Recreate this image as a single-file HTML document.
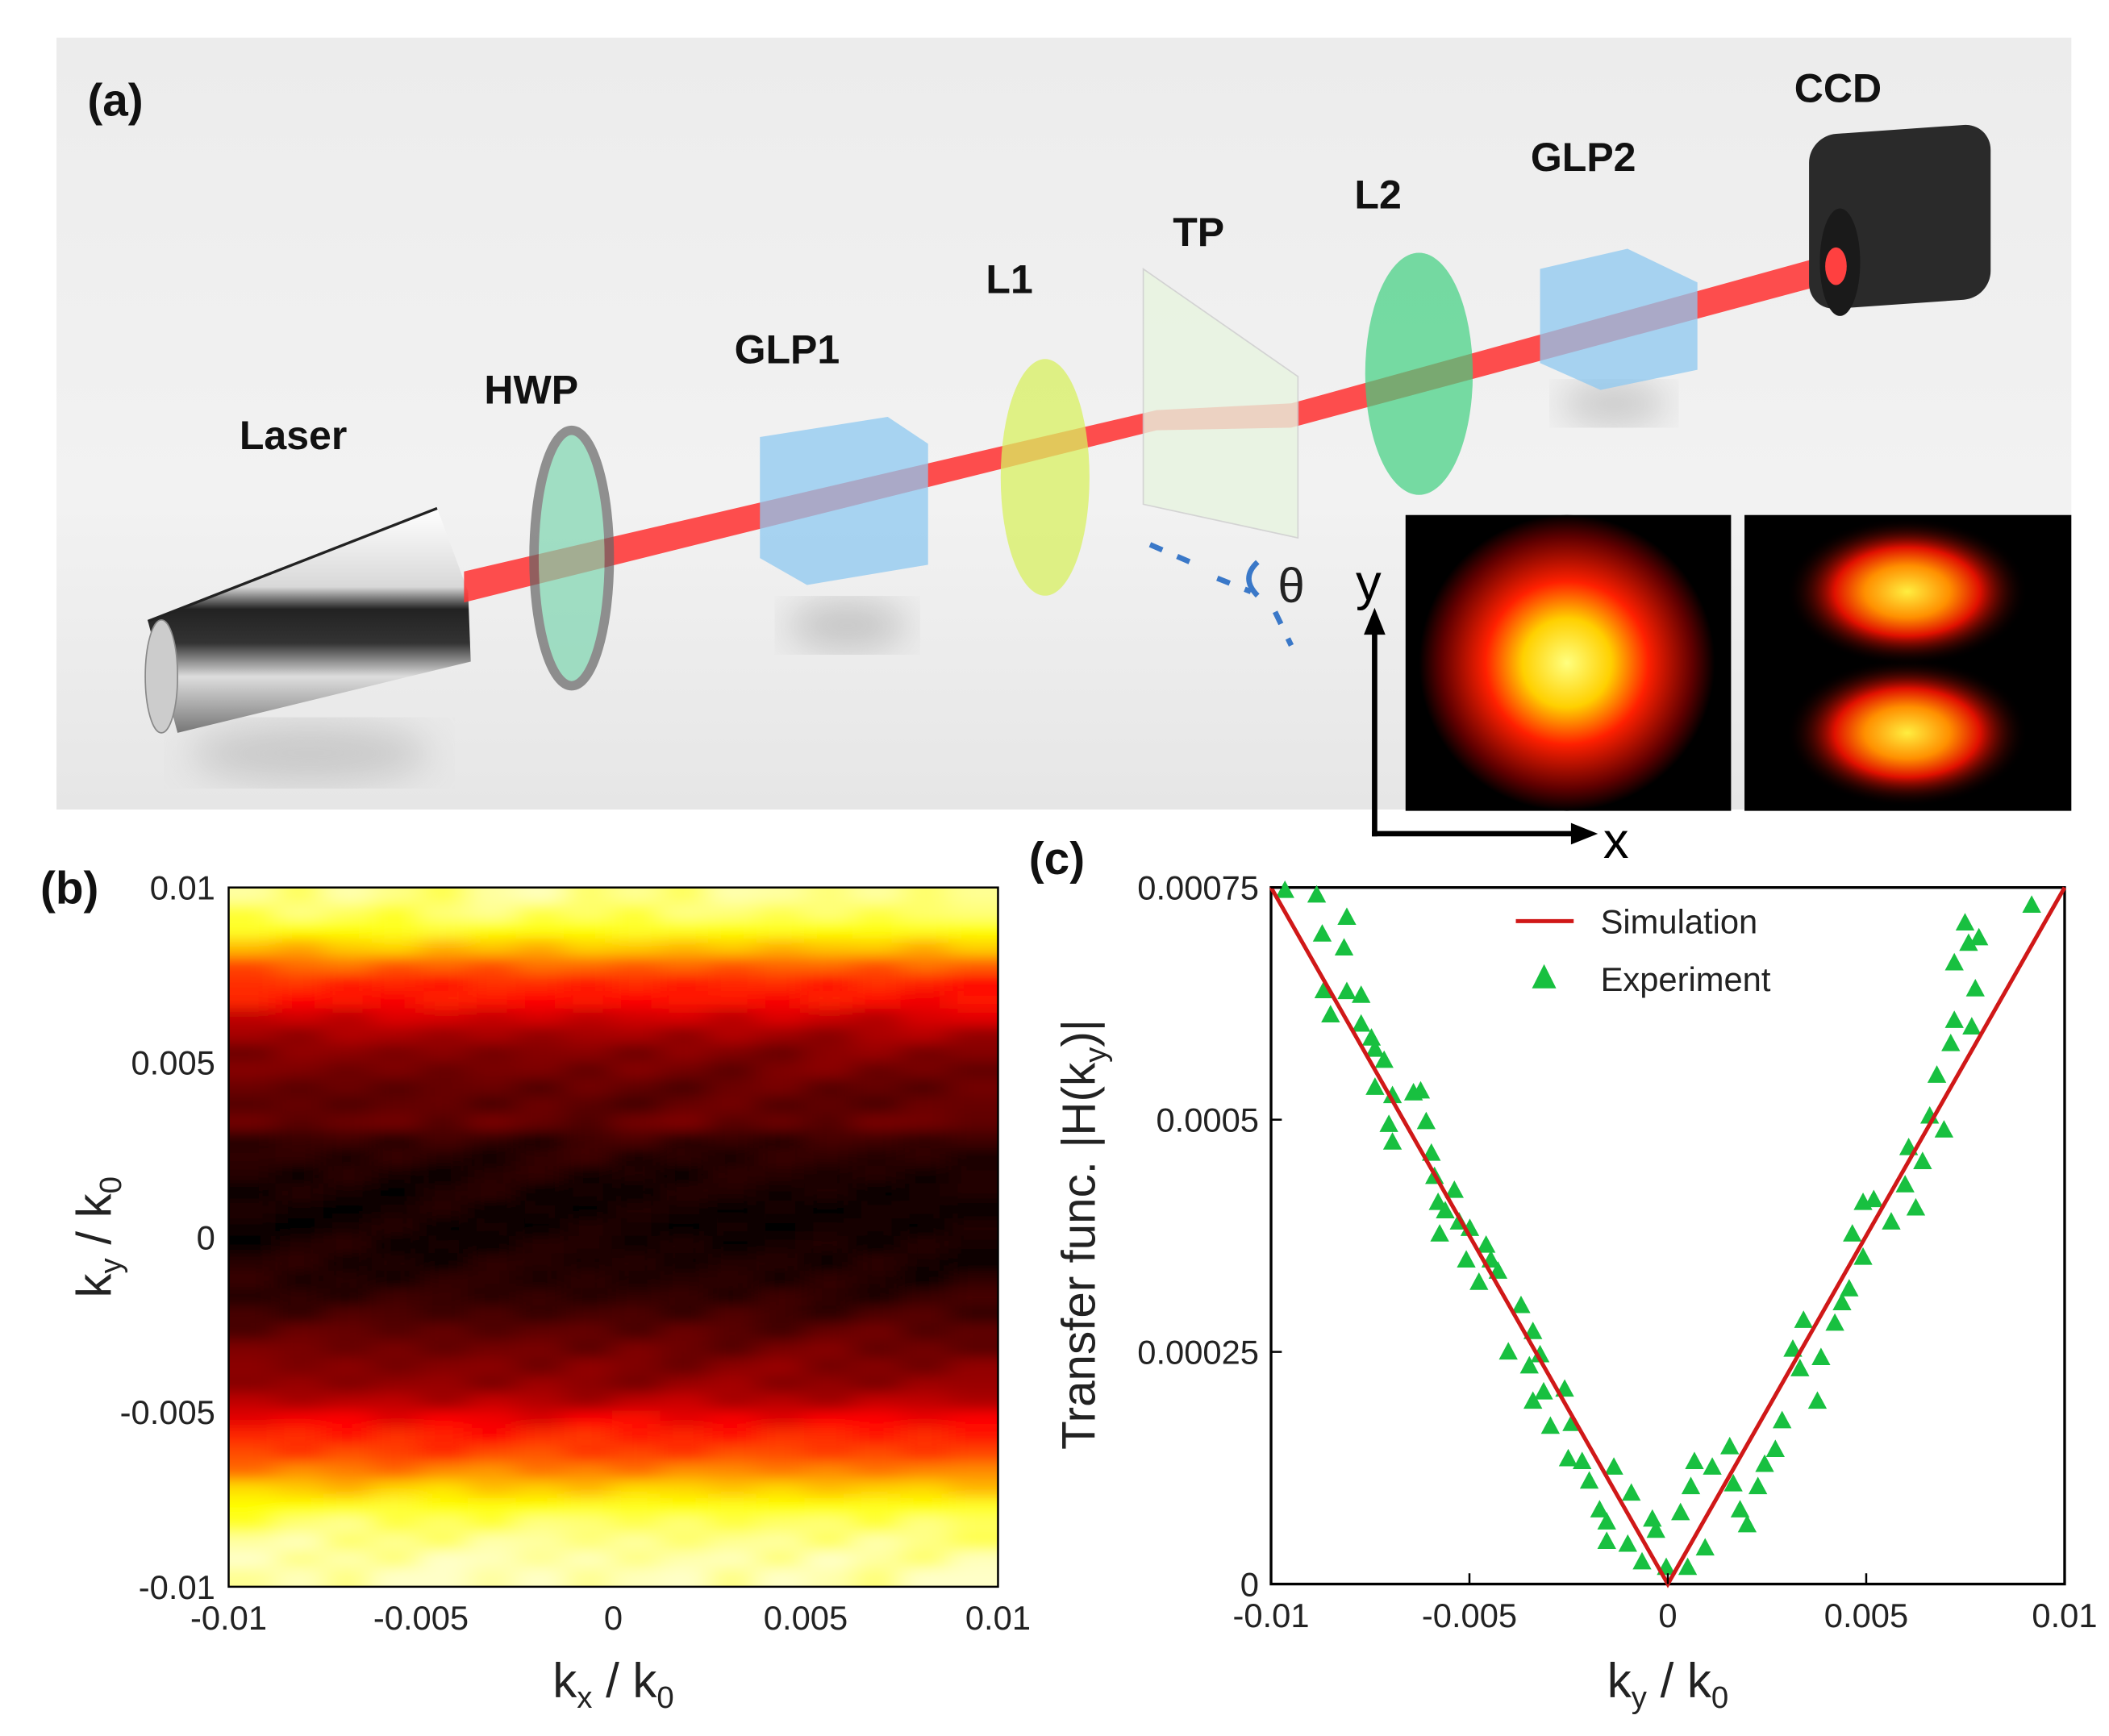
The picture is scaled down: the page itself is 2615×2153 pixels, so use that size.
<!DOCTYPE html>
<html><head><meta charset="utf-8"><style>
html,body{margin:0;padding:0;background:#fff;}
svg{display:block;}
text{font-family:"Liberation Sans",sans-serif;}
</style></head><body>
<svg id="fig" width="2615" height="2153" viewBox="0 0 1568 1291" preserveAspectRatio="none" xmlns="http://www.w3.org/2000/svg">
<defs>
<linearGradient id="bg" x1="0" y1="0" x2="0" y2="1"><stop offset="0" stop-color="#ececec"/><stop offset="0.6" stop-color="#f2f2f2"/><stop offset="1" stop-color="#e6e6e6"/></linearGradient>
<linearGradient id="cyl" x1="0" y1="0" x2="0" y2="1"><stop offset="0" stop-color="#ffffff"/><stop offset="0.35" stop-color="#d8d8d8"/><stop offset="0.45" stop-color="#222"/><stop offset="0.6" stop-color="#333"/><stop offset="0.75" stop-color="#ddd"/><stop offset="1" stop-color="#777"/></linearGradient>
<radialGradient id="spot1"><stop offset="0" stop-color="#ffff80"/><stop offset="0.3" stop-color="#ffd000"/><stop offset="0.55" stop-color="#ff2000"/><stop offset="0.85" stop-color="#600000"/><stop offset="1" stop-color="#000"/></radialGradient>
<radialGradient id="spot2"><stop offset="0" stop-color="#ffee40"/><stop offset="0.35" stop-color="#ff9000"/><stop offset="0.6" stop-color="#e01000"/><stop offset="1" stop-color="#000" stop-opacity="0"/></radialGradient>
<filter id="blur" x="-5%" y="-5%" width="110%" height="110%"><feGaussianBlur stdDeviation="10 5"/></filter>
<filter id="shadow"><feGaussianBlur stdDeviation="14"/></filter>
<clipPath id="hmclip"><rect x="170" y="660" width="572" height="520"/></clipPath>
</defs>

<!-- Panel (a) -->
<g>
<rect x="42" y="28" width="1498" height="574" fill="url(#bg)"/>
<ellipse cx="630" cy="465" rx="45" ry="18" fill="#999" opacity="0.5" filter="url(#shadow)"/>
<ellipse cx="1200" cy="300" rx="40" ry="15" fill="#999" opacity="0.5" filter="url(#shadow)"/>
<ellipse cx="230" cy="560" rx="90" ry="22" fill="#aaa" opacity="0.5" filter="url(#shadow)"/>
<polygon points="110,462 325,378 348,440 350,492 132,545" fill="url(#cyl)"/>
<ellipse cx="120" cy="503" rx="12" ry="42" fill="#ccc" stroke="#888"/>
<line x1="110" y1="462" x2="325" y2="378" stroke="#222" stroke-width="2"/>
<polygon points="345,425 860,305 960,300 1365,188 1370,208 960,318 860,320 345,448" fill="#ff3030" opacity="0.85"/>
<ellipse cx="425" cy="415" rx="28" ry="95" fill="#7ed6b0" opacity="0.7" stroke="#666" stroke-width="7"/>
<polygon points="565,325 660,310 690,330 690,420 600,435 565,415" fill="#8ec8f0" opacity="0.75"/>
<ellipse cx="777" cy="355" rx="33" ry="88" fill="#d8f060" opacity="0.75"/>
<polygon points="850,200 965,280 965,400 850,375" fill="#e8f4e0" opacity="0.8" stroke="#ccc"/>
<ellipse cx="1055" cy="278" rx="40" ry="90" fill="#40d080" opacity="0.7"/>
<polygon points="1145,200 1210,185 1262,210 1262,275 1190,290 1145,270" fill="#8ec8f0" opacity="0.75"/>
<rect x="1345" y="100" width="135" height="130" rx="20" fill="#2a2a2a" transform="skewY(-4) translate(0,95)"/>
<ellipse cx="1368" cy="195" rx="15" ry="40" fill="#1a1a1a"/>
<ellipse cx="1365" cy="198" rx="8" ry="14" fill="#ff4040"/>
<path d="M855,405 L885,418 M905,430 L930,440 M948,455 L960,480" stroke="#3a78c8" stroke-width="4" stroke-dasharray="10 12" fill="none"/>
<path d="M935,418 Q922,430 935,443" stroke="#3a78c8" stroke-width="4" fill="none"/>
<text x="950" y="448" font-family="Liberation Serif,serif" font-size="36" fill="#222">θ</text>
<text x="65" y="86" font-family="Liberation Serif,serif" font-weight="bold" font-size="34" fill="#111">(a)</text>
<g font-weight="bold" font-size="30" fill="#111">
<text x="178" y="334">Laser</text>
<text x="360" y="300">HWP</text>
<text x="546" y="270">GLP1</text>
<text x="733" y="218">L1</text>
<text x="872" y="183">TP</text>
<text x="1007" y="155">L2</text>
<text x="1138" y="127">GLP2</text>
<text x="1334" y="76">CCD</text>
</g>
<rect x="1045" y="383" width="242" height="220" fill="#000"/>
<ellipse cx="1165" cy="493" rx="110" ry="110" fill="url(#spot1)"/>
<rect x="1297" y="383" width="243" height="220" fill="#000"/>
<ellipse cx="1418" cy="440" rx="90" ry="55" fill="url(#spot2)"/>
<ellipse cx="1418" cy="545" rx="90" ry="55" fill="url(#spot2)"/>
<line x1="1022" y1="622" x2="1022" y2="470" stroke="#000" stroke-width="4"/>
<polygon points="1014,472 1030,472 1022,452" fill="#000"/>
<line x1="1020" y1="620" x2="1170" y2="620" stroke="#000" stroke-width="4"/>
<polygon points="1168,612 1168,628 1188,620" fill="#000"/>
<text x="1008" y="446" font-size="38" fill="#000">y</text>
<text x="1192" y="638" font-size="38" fill="#000">x</text>
</g>

<!-- Panel (b) -->
<g id="panelB">
<text x="30" y="672" font-family="Liberation Serif,serif" font-weight="bold" font-size="34" fill="#111">(b)</text>
<g id="hm" clip-path="url(#hmclip)"></g>
<rect x="170" y="660" width="572" height="520" fill="none" stroke="#000" stroke-width="1.5"/>
<g id="bTicks"></g>
<text x="456" y="1262" font-size="36" text-anchor="middle" fill="#222">k<tspan font-size="23" dy="8">x</tspan><tspan dy="-8"> / k</tspan><tspan font-size="23" dy="8">0</tspan></text>
<text transform="translate(82,920) rotate(-90)" font-size="36" text-anchor="middle" fill="#222">k<tspan font-size="23" dy="8">y</tspan><tspan dy="-8"> / k</tspan><tspan font-size="23" dy="8">0</tspan></text>
</g>

<!-- Panel (c) -->
<g id="panelC">
<text x="765" y="650" font-family="Liberation Serif,serif" font-weight="bold" font-size="34" fill="#111">(c)</text>
<rect x="945" y="660" width="590" height="518" fill="none" stroke="#000" stroke-width="2"/>
<g id="cMarks"></g>
<g id="cTicks"></g>
<text x="1240" y="1262" font-size="36" text-anchor="middle" fill="#222">k<tspan font-size="23" dy="8">y</tspan><tspan dy="-8"> / k</tspan><tspan font-size="23" dy="8">0</tspan></text>
<text transform="translate(814,918) rotate(-90)" font-size="35" text-anchor="middle" fill="#222">Transfer func. |H(k<tspan font-size="23" dy="8">y</tspan><tspan dy="-8">)|</tspan></text>
<g>
<line x1="1127" y1="685" x2="1170" y2="685" stroke="#d01818" stroke-width="3"/>
<text x="1190" y="694" font-size="25" fill="#222">Simulation</text>
<polygon points="1148,717 1139,735 1157,735" fill="#18c040"/>
<text x="1190" y="737" font-size="25" fill="#222">Experiment</text>
</g>
</g>
</svg>
<script>
// ---- Panel (b) heatmap data: intensity per ky row (top=+0.01 to bottom=-0.01)
var rowIntensity = [0.95,0.92,0.85,0.7,0.55,0.45,0.42,0.32,0.25,0.2,0.18,0.15,0.14,0.16,0.08,0.06,0.04,0.03,0.02,0.02,0.03,0.04,0.05,0.07,0.1,0.14,0.17,0.2,0.22,0.28,0.38,0.45,0.5,0.6,0.72,0.85,0.92,0.95,0.97,0.98];
var colModulation = [0.02,-0.03,0.03,0.0,-0.04,0.02,0.04,-0.02,0.01,-0.03,0.03,0.02,-0.01,0.02,-0.02,0.01];
var bTickValues = [-0.01,-0.005,0,0.005,0.01];
var bTickLabels = ["-0.01","-0.005","0","0.005","0.01"];
// ---- Panel (c) data
var cXTicks = [-0.01,-0.005,0,0.005,0.01];
var cXTickLabels = ["-0.01","-0.005","0","0.005","0.01"];
var cYTicks = [0,0.00025,0.0005,0.00075];
var cYTickLabels = ["0","0.00025","0.0005","0.00075"];
var simSlope = 0.075;
var simK = [-0.01,0,0.01];
var expKyMilli = [-9.65,-8.85,-8.09,-8.71,-8.16,-8.67,-8.09,-7.73,-8.50,-7.73,-7.47,-7.38,-7.15,-7.38,-6.94,-6.41,-6.23,-6.09,-7.03,-6.94,-5.96,-5.88,-5.79,-5.38,-5.61,-5.26,-5.75,-4.99,-4.58,-5.08,-4.46,-4.76,-4.28,-3.70,-4.02,-3.40,-3.22,-3.49,-3.13,-2.60,-3.40,-2.96,-2.42,-2.51,-2.16,-1.98,-1.36,-1.72,-1.54,-0.92,-1.54,-1.01,-0.65,-0.39,-0.30,-0.04,0.50,0.32,0.58,0.67,0.94,1.12,1.56,1.65,1.82,2.00,2.27,2.44,2.71,2.88,3.15,3.33,3.42,3.77,3.86,4.21,4.39,4.57,4.65,4.92,4.92,5.19,5.63,5.98,6.25,6.07,6.42,6.60,6.78,6.96,7.13,7.22,7.22,7.49,7.58,7.84,7.75,7.66,9.17];
var expHE5 = [74.6,74.1,71.7,69.9,68.4,63.8,63.7,63.3,61.2,60.2,58.7,57.5,56.3,53.4,52.5,52.8,53.0,49.7,49.4,47.5,46.3,43.8,41.0,42.3,40.1,38.9,37.6,38.2,36.4,34.8,34.8,32.4,33.6,29.9,24.9,27.1,24.6,23.4,20.6,20.9,19.6,16.9,17.2,13.4,13.1,11.0,12.5,7.9,6.6,9.7,4.5,4.2,2.3,6.9,5.7,1.7,1.7,7.6,10.4,13.1,3.8,12.5,14.7,10.7,7.9,6.3,10.4,12.8,14.4,17.5,25.2,23.1,28.3,19.6,24.3,28.0,30.2,31.7,37.6,35.1,41.0,41.3,38.9,42.9,40.4,46.9,45.4,50.3,54.7,48.8,58.1,60.6,66.8,71.1,68.9,69.5,64.0,59.9,73.0];

var NS="http://www.w3.org/2000/svg";
function mk(tag,attrs,parent){var e=document.createElementNS(NS,tag);for(var k in attrs)e.setAttribute(k,attrs[k]);parent.appendChild(e);return e;}
function hot(t){t=Math.max(0,Math.min(1,t));var r=Math.min(1,t/0.4),g=Math.max(0,Math.min(1,(t-0.4)/0.4)),b=Math.max(0,(t-0.85)/0.15);return "rgb("+Math.round(r*255)+","+Math.round(g*255)+","+Math.round(b*200)+")";}

// Panel b scales
var bx0=170,bx1=742,by0=660,by1=1180;
function bX(v){return bx0+(v+0.01)/0.02*(bx1-bx0);}
function bY(v){return by1-(v+0.01)/0.02*(by1-by0);}
var hm=document.getElementById('hm');
var hg=mk('g',{filter:'url(#blur)'},hm);
var nr=rowIntensity.length,nc=colModulation.length;
for(var r=0;r<nr;r++){for(var c=0;c<nc;c++){
  var ky1=0.01-r*0.02/nr,ky2=0.01-(r+1)*0.02/nr;
  var kx1=-0.01+c*0.02/nc,kx2=-0.01+(c+1)*0.02/nc;
  var ex=(c==0?-30:0),ew=(c==nc-1?30:0),ey=(r==0?-20:0),eh=(r==nr-1?20:0);
  var cell=mk('rect',{x:bX(kx1)-1+ex,y:bY(ky1)-1+ey,width:bX(kx2)-bX(kx1)+2-ex+ew,height:bY(ky2)-bY(ky1)+2-ey+eh,fill:hot(rowIntensity[r]+colModulation[(c+r)%nc])},hg);
  
  
}}
var bt=document.getElementById('bTicks');
for(var i=0;i<bTickValues.length;i++){
  var tx=mk('text',{x:bX(bTickValues[i]),y:1212,'font-size':25,'text-anchor':'middle',fill:'#222'},bt);tx.textContent=bTickLabels[i];
  
  
  var ty=mk('text',{x:160,y:bY(bTickValues[i])+9,'font-size':25,'text-anchor':'end',fill:'#222'},bt);ty.textContent=bTickLabels[i];
  
  
}

// Panel c scales
var cx0=945,cx1=1535,cy0=660,cy1=1178;
function cX(v){return cx0+(v+0.01)/0.02*(cx1-cx0);}
function cY(v){return cy1-v/0.00075*(cy1-cy0);}
var cm=document.getElementById('cMarks');
for(var i=0;i<expKyMilli.length;i++){
  var px=cX(expKyMilli[i]/1000),py=cY(expHE5[i]/1e5);
  var tri=mk('polygon',{points:px+','+(py-8)+' '+(px-7)+','+(py+5)+' '+(px+7)+','+(py+5),fill:'#18c040'},cm);
  
  
}
var pts=simK.map(function(k){return cX(k)+','+cY(Math.abs(k)*simSlope);}).join(' ');
var sim=mk('polyline',{points:pts,fill:'none',stroke:'#d01818','stroke-width':3},cm);


var ct=document.getElementById('cTicks');
for(var i=0;i<cXTicks.length;i++){
  var x=cX(cXTicks[i]);
  mk('line',{x1:x,y1:cy1,x2:x,y2:cy1-8,stroke:'#000','stroke-width':1.5},ct);
  var t=mk('text',{x:x,y:1210,'font-size':25,'text-anchor':'middle',fill:'#222'},ct);t.textContent=cXTickLabels[i];
  
  
}
for(var i=0;i<cYTicks.length;i++){
  var y=cY(cYTicks[i]);
  mk('line',{x1:cx0,y1:y,x2:cx0+8,y2:y,stroke:'#000','stroke-width':1.5},ct);
  var t=mk('text',{x:936,y:y+9,'font-size':25,'text-anchor':'end',fill:'#222'},ct);t.textContent=cYTickLabels[i];
  
  
}
</script>
</body></html>
